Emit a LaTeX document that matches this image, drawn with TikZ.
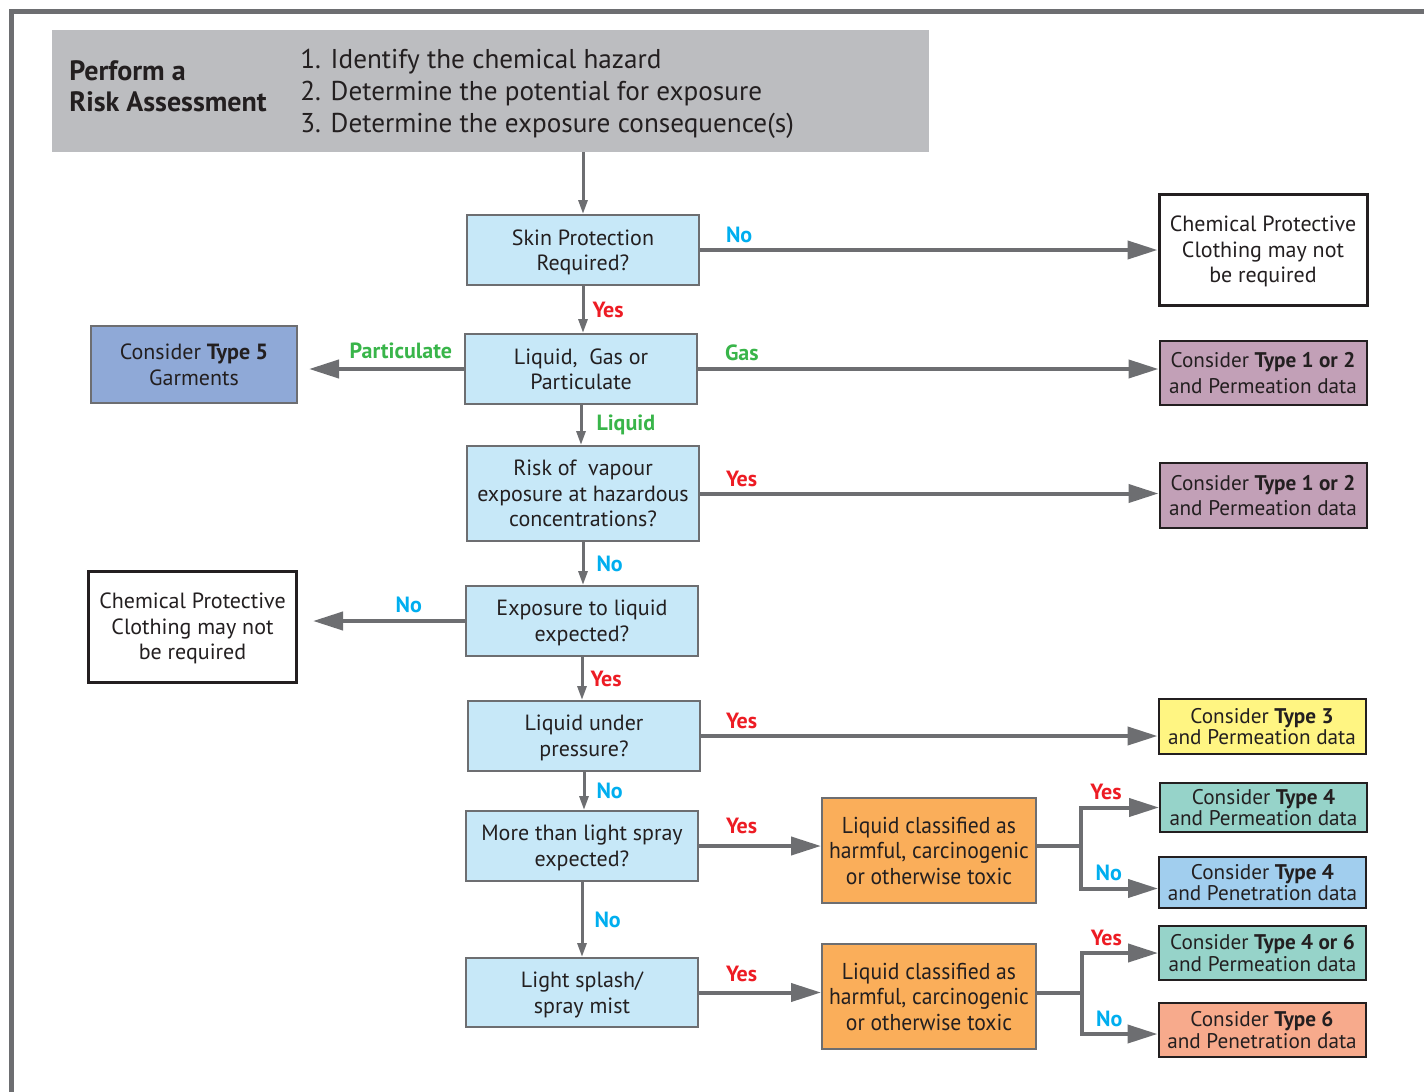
\documentclass[tikz,border=0pt]{standalone}
\usepackage{fontspec}
\setmainfont{PT Sans}
\newfontfamily\narrowfont[FakeStretch=0.94]{PT Sans}
\usetikzlibrary{arrows.meta}
\definecolor{ink}{HTML}{231F20}
\definecolor{linegray}{HTML}{6D6E71}
\definecolor{headgray}{HTML}{BCBDC0}
\definecolor{askblue}{HTML}{C7E8F8}
\definecolor{typefive}{HTML}{8FA9D7}
\definecolor{mauve}{HTML}{C2A0B7}
\definecolor{lemon}{HTML}{FFF582}
\definecolor{teal}{HTML}{96D3C9}
\definecolor{skyblue}{HTML}{A1CEEE}
\definecolor{salmon}{HTML}{F7AA8C}
\definecolor{amber}{HTML}{FAAE5A}
\definecolor{yesred}{HTML}{ED1C24}
\definecolor{noblue}{HTML}{00AEEF}
\definecolor{leafgreen}{HTML}{39B54A}
\begin{document}
\begin{tikzpicture}[x=0.5pt,y=-0.5pt,
  box/.style={draw=linegray,line width=1pt,text=ink,align=center,inner sep=0pt,text depth=0pt,
    font=\fontsize{11}{12.8}\selectfont},
  ask/.style={box,fill=askblue,minimum width=116pt,minimum height=35pt},
  result/.style={box,draw=ink,minimum width=103.5pt,font=\fontsize{10.6}{12.6}\selectfont},
  tight/.style={font=\fontsize{10.6}{10.6}\selectfont},
  cpc/.style={box,draw=ink,line width=1.5pt,fill=white,minimum width=104pt,minimum height=55.5pt},
  toxic/.style={box,fill=amber,minimum width=107pt,minimum height=52.5pt,
    font=\narrowfont\fontsize{11.5}{12.8}\selectfont},
  bigarr/.style={draw=linegray,line width=2pt,-{Triangle[length=15pt,width=9pt]}},
  smallarr/.style={draw=linegray,line width=1.5pt,-{Triangle[length=7pt,width=4.5pt]}},
  lab/.style={inner sep=0pt,font=\bfseries\fontsize{11}{13}\selectfont},
  yes/.style={lab,text=yesred},
  no/.style={lab,text=noblue},
  kind/.style={lab,text=leafgreen}]
\useasboundingbox (0,0) rectangle (1424,1092);
% frame and header
\draw[linegray,line width=2.5pt] (11.5,1092) -- (11.5,11) -- (1424,11);
\node[fill=headgray,minimum width=438.5pt,minimum height=61pt,inner sep=0pt] (head) at (490.5,91) {};
\node[anchor=west,align=left,text=ink,inner sep=0pt,font=\bfseries\fontsize{14}{15.5}\selectfont]
  (title) at (69,86) {Perform a\\Risk Assessment};
\node[anchor=west,align=left,text=ink,inner sep=0pt,font=\fontsize{13.6}{16}\selectfont]
  (steps) at (300,94) {1. Identify the chemical hazard\\2. Determine the potential for exposure\\3. Determine the exposure consequence(s)};
% questions
\node[ask] (skin) at (583,250) {Skin Protection\\Required?};
\node[ask] (liq) at (581,369) {Liquid,\ \ Gas or\\Particulate};
\node[ask,minimum height=47.5pt] (vap) at (583,493.5) {Risk of\ \ vapour\\exposure at hazardous\\concentrations?};
\node[ask] (expo) at (582,621) {Exposure to liquid\\expected?};
\node[ask] (pres) at (584,736) {Liquid under\\pressure?};
\node[ask] (spray) at (582,846) {More than light spray\\expected?};
\node[ask,minimum height=34.5pt] (splash) at (582,992.5) {Light splash/\\spray mist};
% outcomes
\node[cpc] (cpcR) at (1263,249.5) {Chemical Protective\\Clothing may not\\be required};
\node[cpc] (cpcL) at (192.5,626.5) {Chemical Protective\\Clothing may not\\be required};
\node[box,fill=typefive,minimum width=103pt,minimum height=38.5pt] (t5) at (194,364.5) {Consider \textbf{Type 5}\\Garments};
\node[result,fill=mauve,minimum height=32pt] (gas12) at (1263,373) {Consider \textbf{Type 1 or 2}\\and Permeation data};
\node[result,fill=mauve,minimum height=32.5pt] (vap12) at (1263,495.5) {Consider \textbf{Type 1 or 2}\\and Permeation data};
\node[result,tight,fill=lemon,minimum height=27.5pt] (t3) at (1262,726.5) {Consider \textbf{Type 3}\\and Permeation data};
\node[toxic] (tox1) at (929,850.5) {Liquid classified as\\harmful, carcinogenic\\or otherwise toxic};
\node[toxic] (tox2) at (929,996.5) {Liquid classified as\\harmful, carcinogenic\\or otherwise toxic};
\node[result,tight,fill=teal,minimum height=24.5pt] (t4perm) at (1263.5,807.5) {Consider \textbf{Type 4}\\and Permeation data};
\node[result,tight,fill=skyblue,minimum height=25.5pt] (t4pen) at (1262.5,882.5) {Consider \textbf{Type 4}\\and Penetration data};
\node[result,tight,fill=teal,minimum height=27pt] (t46) at (1262.5,953) {Consider \textbf{Type 4 or 6}\\and Permeation data};
\node[result,tight,fill=salmon,minimum height=27pt] (t6) at (1262,1030) {Consider \textbf{Type 6}\\and Penetration data};
% main line down
\draw[smallarr] (head.south -| skin.north) -- (skin.north);
\draw[smallarr] (skin.south) -- node[yes,pos=0.5,anchor=west,xshift=4pt]{Yes} (skin.south |- liq.north);
\draw[smallarr] (liq.south) -- node[kind,pos=0.5,anchor=west,xshift=7pt]{Liquid} (liq.south |- vap.north);
\draw[smallarr] (vap.south) -- node[no,pos=0.5,anchor=west,xshift=6pt]{No} (vap.south |- expo.north);
\draw[smallarr] (expo.south) -- node[yes,pos=0.5,anchor=west,xshift=3.5pt]{Yes} (expo.south |- pres.north);
\draw[smallarr] (pres.south) -- node[no,pos=0.5,anchor=west,xshift=5.5pt]{No} (pres.south |- spray.north);
\draw[smallarr] (spray.south) -- node[no,pos=0.5,anchor=west,xshift=5.5pt]{No} (spray.south |- splash.north);
% branches
\draw[bigarr] (skin.east) -- node[no,pos=0,anchor=base west,xshift=12pt,yshift=4pt]{No} (skin.east -| cpcR.west);
\draw[bigarr,shorten >=5.5pt] (liq.west) -- node[kind,pos=0,anchor=base east,xshift=-5pt,yshift=5.5pt]{Particulate} (liq.west -| t5.east);
\draw[bigarr] (liq.east) -- node[kind,pos=0,anchor=base west,xshift=12.5pt,yshift=4.5pt]{Gas} (liq.east -| gas12.west);
\draw[bigarr] (vap.east) -- node[yes,pos=0,anchor=base west,xshift=12pt,yshift=3.5pt]{Yes} (vap.east -| vap12.west);
\draw[bigarr,shorten >=7.5pt] (expo.west) -- node[no,pos=0,anchor=base east,xshift=-20.5pt,yshift=4.5pt]{No} (expo.west -| cpcL.east);
\draw[bigarr] (pres.east) -- node[yes,pos=0,anchor=base west,xshift=11.5pt,yshift=4pt]{Yes} (pres.east -| t3.west);
\draw[bigarr] (spray.east) -- node[yes,pos=0,anchor=base west,xshift=12.5pt,yshift=6.5pt]{Yes} (spray.east -| tox1.west);
\draw[bigarr] (splash.east) -- node[yes,pos=0,anchor=base west,xshift=12.5pt,yshift=5.5pt]{Yes} (splash.east -| tox2.west);
% toxic splits
\draw[bigarr] (tox1.east |- spray.east) -- ++(22pt,0) coordinate (fork1)
  |- node[yes,pos=0.66,anchor=base,yshift=4pt]{Yes} (t4perm.west);
\draw[bigarr] (fork1) |- node[no,pos=0.68,anchor=base,yshift=4pt]{No} ([yshift=-3pt]t4pen.west);
\draw[bigarr] (tox2.east |- splash.east) -- ++(22.5pt,0) coordinate (fork2)
  |- node[yes,pos=0.66,anchor=base,yshift=4pt]{Yes} (t46.west);
\draw[bigarr] (fork2) |- node[no,pos=0.68,anchor=base,yshift=4pt]{No} ([yshift=-2pt]t6.west);
\end{tikzpicture}
\end{document}
